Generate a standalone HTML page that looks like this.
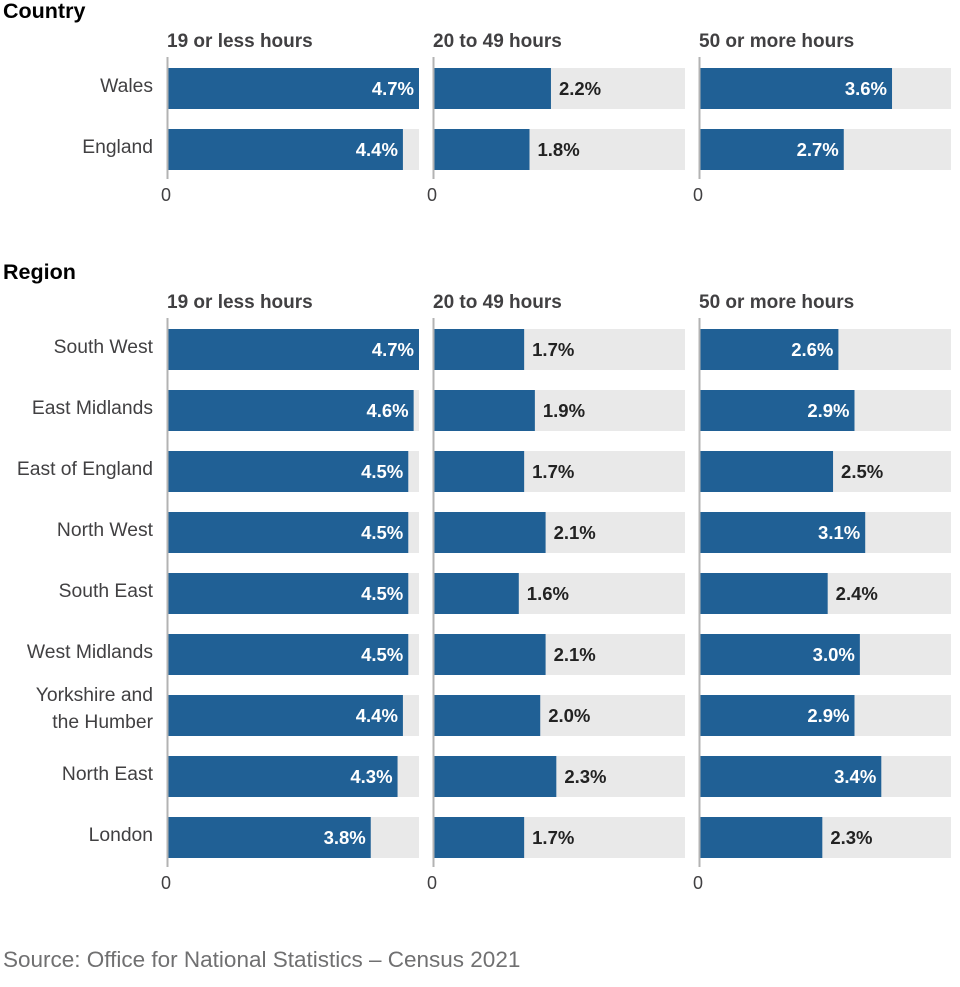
<!DOCTYPE html>
<html><head><meta charset="utf-8">
<style>
body{margin:0;background:#fff;width:960px;height:982px;overflow:hidden;font-family:"Liberation Sans",sans-serif;}
svg text{font-family:"Liberation Sans",sans-serif;}
</style></head>
<body>
<svg id="chart" width="960" height="982" xmlns="http://www.w3.org/2000/svg"></svg>
<script>
const panels = ["19 or less hours","20 to 49 hours","50 or more hours"];
const countries = ["Wales","England"];
const countryV1 = [4.7,4.4];
const countryV2 = [2.2,1.8];
const countryV3 = [3.6,2.7];
const regions = ["South West","East Midlands","East of England","North West","South East","West Midlands","Yorkshire and the Humber","North East","London"];
const regionV1 = [4.7,4.6,4.5,4.5,4.5,4.5,4.4,4.3,3.8];
const regionV2 = [1.7,1.9,1.7,2.1,1.6,2.1,2.0,2.3,1.7];
const regionV3 = [2.6,2.9,2.5,3.1,2.4,3.0,2.9,3.4,2.3];
const maxV = 4.7;

const svg = document.getElementById('chart');
const NS = "http://www.w3.org/2000/svg";
const panelX = [167,433,699], panelW = 252;
function x(v){ return v/maxV*panelW; }
function mk(tag, attrs, parent){ const e=document.createElementNS(NS,tag); for(const k in attrs) e.setAttribute(k,attrs[k]); (parent||svg).appendChild(e); return e; }
function txt(s, attrs, parent){ const e=mk('text',attrs,parent); e.textContent=s; return e; }

function section(title, titleY, cats, series, top, name){
  const g = mk('g',{});
  
  
  const t = txt(title,{x:3,y:titleY,'font-size':21.5,'font-weight':'bold',fill:'#000'},g);
  
  
  const step = 61, bh = 41;
  const bottom = top + cats.length*step - 20;
  cats.forEach((c,i)=>{
    const y = top + i*step;
    const parts = c==="Yorkshire and the Humber" ? ["Yorkshire and","the Humber"] : [c];
    parts.forEach((p,j)=>{
      const l = txt(p,{x:153,y:y+(parts.length>1? 6+j*27 : 24),'text-anchor':'end','font-size':19.3,fill:'#414042'},g);
      
      
    });
  });
  panels.forEach((p,pi)=>{
    const px = panelX[pi];
    const h = txt(p,{x:px,y:top-21,'font-size':19,'font-weight':'bold',fill:'#414042'},g);
    
    
    cats.forEach((c,i)=>{
      const y = top + i*step;
      const bg = mk('rect',{x:px,y:y,width:panelW,height:bh,fill:'#e9e9e9'},g);
      
      
      const v = series[pi][i];
      const b = mk('rect',{x:px,y:y,width:x(v),height:bh,fill:'#206095'},g);
      
      
      const inside = v >= 2.6;
      const lab = txt(v.toFixed(1)+'%',{x: inside ? px+x(v)-5 : px+x(v)+8, y:y+27,'text-anchor': inside?'end':'start','font-size':18.5,'font-weight':'bold',fill: inside?'#fff':'#222'},g);
      
      
    });
    const ax = mk('line',{x1:px+0.5,x2:px+0.5,y1:top-11,y2:bottom+9,stroke:'#b3b3b3','stroke-width':2},g);
    
    
    const z = txt('0',{x:px-1,y:bottom+31,'text-anchor':'middle','font-size':18,fill:'#414042'},g);
    
    
  });
}
section("Country",18,countries,[countryV1,countryV2,countryV3],68,'country');
section("Region",279,regions,[regionV1,regionV2,regionV3],329,'region');
const src = txt("Source: Office for National Statistics \u2013 Census 2021",{x:3,y:967,'font-size':22.5,fill:'#707071'});


</script>
</body></html>
